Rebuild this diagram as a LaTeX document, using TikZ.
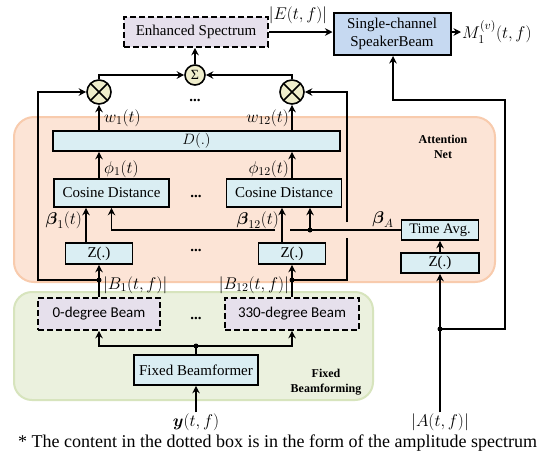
\documentclass[tikz,border=0pt]{standalone}
\usepackage{fix-cm}
\usepackage{amsmath}
\usepackage{fontspec}
\setmainfont{Liberation Serif}
\newfontfamily\calibri{Carlito}
\usetikzlibrary{arrows.meta}
\definecolor{boxblue}{HTML}{DAEEF3}
\definecolor{sbblue}{HTML}{C6D9F1}
\definecolor{dpurple}{HTML}{E6E0EC}
\definecolor{cyellow}{HTML}{EFEDCB}
\definecolor{attfill}{HTML}{FCE4D6}
\definecolor{attline}{HTML}{F8CBAD}
\definecolor{fixfill}{HTML}{EBF1DE}
\definecolor{fixline}{HTML}{D7E4BD}
\begin{document}
\begin{tikzpicture}[x=1pt,y=-1pt,
  bx/.style={draw, line width=1.6pt, fill=boxblue, inner sep=0pt, font=\fontsize{15}{18}\selectfont},
  dbx/.style={draw, line width=1.6pt, dash pattern=on 6pt off 3pt, fill=dpurple, inner sep=0pt, font=\fontsize{15}{18}\selectfont},
  ar/.style={line width=1.6pt, -{Stealth[length=7.5pt,width=7.5pt,inset=2.5pt]}},
  ln/.style={line width=1.6pt},
  lab/.style={font=\fontsize{17}{20}\selectfont, inner sep=1pt},
  dot/.style={circle, fill=black, inner sep=0pt, minimum size=5pt},
  otimes/.style={circle, draw, line width=1.6pt, fill=cyellow, minimum size=24pt, inner sep=0pt,
    path picture={\draw[line width=1.6pt] (path picture bounding box.north west) -- (path picture bounding box.south east)
      (path picture bounding box.north east) -- (path picture bounding box.south west);}},
  grp/.style={font=\bfseries\fontsize{12}{15}\selectfont, align=center, inner sep=0pt},
  dts/.style={font=\bfseries\fontsize{15}{18}\selectfont, inner sep=0pt}
]
\useasboundingbox[fill=white] (0,0) rectangle (545,456);

% group regions
\draw[attline, line width=2pt, fill=attfill, rounded corners=20pt] (14,117) rectangle (495,282);
\draw[fixline, line width=2pt, fill=fixfill, rounded corners=18pt] (14,292) rectangle (373,400);
\node[grp] (attlab) at (443,147) {Attention\\Net};
\node[grp] (fixlab) at (326,382) {Fixed\\Beamforming};

% top
\node[dbx, minimum width=144pt, minimum height=30pt] (es) at (196,32) {Enhanced Spectrum};
\node[bx, fill=sbblue, line width=2pt, minimum width=117pt, minimum height=42pt, align=center] (sb) at (392,34) {Single-channel\\SpeakerBeam};
\node[lab, anchor=west] (m) at (461,32) {$M_1^{(v)}(t,f)$};
\node[lab] (elab) at (298,15) {$|E(t,f)|$};
\node[circle, draw, line width=1.6pt, fill=cyellow, minimum size=20pt, inner sep=0pt, font=\fontsize{14}{14}\selectfont] (sum) at (195,75) {Σ};
\node[otimes] (o1) at (99,92) {};
\node[otimes] (o2) at (292,92) {};
\node[dts] (dts0) at (195,100) {...};

% attention net
\node[bx, minimum width=287pt, minimum height=20pt] (d) at (196.5,141) {$D(.)$};
\node[bx, minimum width=115pt, minimum height=28pt] (cd1) at (111.5,193) {Cosine Distance};
\node[bx, minimum width=115pt, minimum height=28pt] (cd2) at (284,193) {Cosine Distance};
\node[dts] (dts1) at (196,196) {...};
\node[bx, minimum width=67pt, minimum height=21pt] (z1) at (99,253.5) {Z(.)};
\node[bx, minimum width=67pt, minimum height=21pt] (z2) at (292,253.5) {Z(.)};
\node[dts] (dts2) at (196,250) {...};
\node[bx, minimum width=77pt, minimum height=20pt, font=\fontsize{14.5}{17}\selectfont] (ta) at (440,230) {Time Avg.};
\node[bx, minimum width=78pt, minimum height=20pt] (z3) at (440,263) {Z(.)};

\node[lab, anchor=west] (w1) at (103,118) {$w_1(t)$};
\node[lab, anchor=east] (w12) at (290,118) {$w_{12}(t)$};
\node[lab, anchor=west] (p1) at (103,169) {$\phi_1(t)$};
\node[lab, anchor=east] (p12) at (290,169) {$\phi_{12}(t)$};
\node[lab, anchor=east] (be1) at (83,220) {$\boldsymbol{\beta}_1(t)$};
\node[lab, anchor=east] (be12) at (280,220) {$\boldsymbol{\beta}_{12}(t)$};
\node[lab] (beA) at (383,220) {$\boldsymbol{\beta}_A$};

% fixed beamforming
\node[dbx, font=\calibri\fontsize{15}{18}\selectfont, minimum width=122pt, minimum height=32pt] (b1) at (99,314) {0-degree Beam};
\node[dbx, font=\calibri\fontsize{15}{18}\selectfont, minimum width=134pt, minimum height=32pt] (b12) at (292,314) {330-degree Beam};
\node[dts] (dts3) at (196,318) {...};
\node[bx, minimum width=124pt, minimum height=30pt] (fb) at (196,370) {Fixed Beamformer};
\node[lab, anchor=west] (lb1) at (102,285) {$|B_1(t,f)|$};
\node[lab, anchor=east] (lb12) at (290,285) {$|B_{12}(t,f)|$};

\node[lab] (y) at (196,422) {$\boldsymbol{y}(t,f)$};
\node[lab] (a) at (440,422) {$|A(t,f)|$};
\node[font=\fontsize{18}{21}\selectfont, inner sep=0pt] (note) at (277.5,443) {* The content in the dotted box is in the form of the amplitude spectrum};

% junctions
\node[dot] (j1) at (99,280) {};
\node[dot] (j12) at (292,280) {};
\node[dot] (jf) at (196,346) {};
\node[dot] (ja) at (440,329) {};
\node[dot] (dA) at (310,230) {};
\coordinate (xb1) at (86,0);
\coordinate (xb12) at (282,0);
\coordinate (gapR) at (290,230);
\coordinate (gapL) at (275,230);
\coordinate (cA1) at (111.5,230);
\coordinate (lcB) at (38,280);
\coordinate (lcT) at (38,92);
\coordinate (rcB) at (347,280);
\coordinate (rcG1) at (347,238);
\coordinate (rcG2) at (347,222);
\coordinate (rcT) at (347,92);
\coordinate (frB) at (505,329);
\coordinate (frT) at (505,100);
\coordinate (sbB) at (393,100);

% connectors top
\draw[ar] (es.east) -- (sb.west |- es.east);
\draw[ar] (sb.east |- m.west) -- (m.west);
\draw[ar] (sum.north) -- (sum.north |- es.south);
\draw[ar] (o1.north) |- (sum.west);
\draw[ar] (o2.north) |- (sum.east);
\draw[ar] (d.north -| o1) -- (o1.south);
\draw[ar] (d.north -| o2) -- (o2.south);
\draw[ar] (cd1.north -| o1) -- (d.south -| o1);
\draw[ar] (cd2.north -| o2) -- (d.south -| o2);
\draw[ar] (z1.north -| xb1) -- (cd1.south -| xb1);
\draw[ar] (z2.north -| xb12) -- (cd2.south -| xb12);
\draw[ln] (ta.west |- dA) -- (gapR);
\draw[ar] (gapL) -- (cA1) -- (cd1.south -| cA1);
\draw[ar] (dA.center) -- (cd2.south -| dA);
\draw[ar] (z3.north) -- (ta.south);

% side loops
\draw[ar] (j1.center) -- (lcB) -- (lcT) -- (o1.west);
\draw[ln] (j12.center) -- (rcB) -- (rcG1);
\draw[ar] (rcG2) -- (rcT) -- (o2.east);

% beams
\draw[ar] (b1.north) -- (z1.south);
\draw[ar] (b12.north) -- (z2.south);
\draw[ln] (fb.north) -- (jf.center);
\draw[ar] (jf.center) -| (b1.south);
\draw[ar] (jf.center) -| (b12.south);
\draw[ar] (y.north) -- (fb.south);
\draw[ar] (a.north) -- (z3.south);
\draw[ar] (ja.center) -- (frB) -- (frT) -- (sbB) -- (sb.south -| sbB);
\end{tikzpicture}
\end{document}
